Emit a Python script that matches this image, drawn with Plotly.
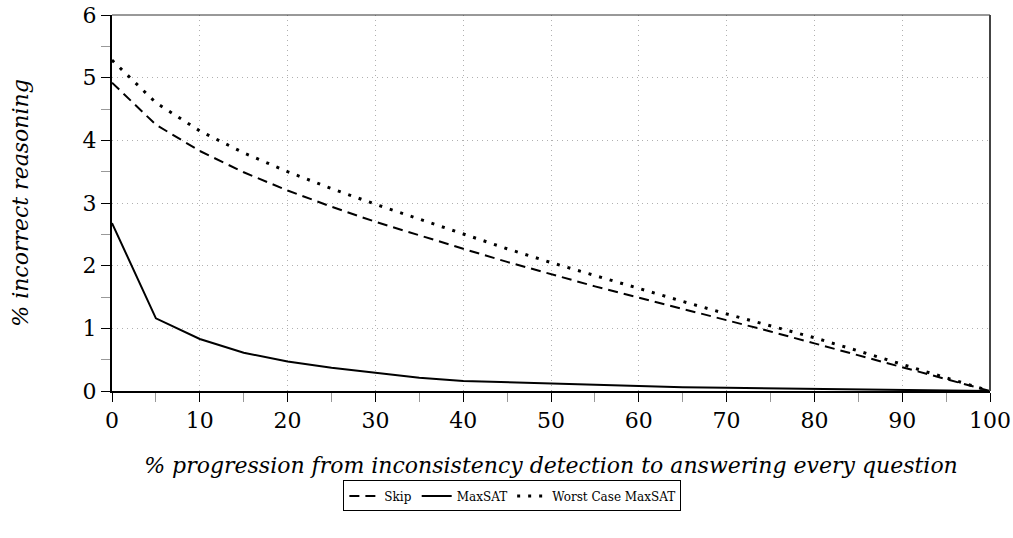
import plotly.graph_objects as go

x = [0, 5, 10, 15, 20, 25, 30, 35, 40, 45, 50, 55, 60, 65, 70, 75, 80, 85, 90, 95, 100]
skip = [4.92, 4.25, 3.83, 3.49, 3.2, 2.94, 2.7, 2.48, 2.27, 2.06, 1.86, 1.67, 1.49, 1.31, 1.14, 0.95, 0.76, 0.57, 0.37, 0.18, 0.0]
maxsat = [2.68, 1.16, 0.83, 0.61, 0.47, 0.37, 0.29, 0.21, 0.16, 0.14, 0.11, 0.09, 0.07, 0.06, 0.05, 0.04, 0.03, 0.02, 0.015, 0.008, 0.0]
worst = [5.28, 4.6, 4.15, 3.8, 3.5, 3.23, 2.98, 2.74, 2.51, 2.27, 2.05, 1.84, 1.64, 1.43, 1.23, 1.04, 0.85, 0.64, 0.42, 0.21, 0.0]

FONT = "DejaVu Serif"

fig = go.Figure()
fig.add_trace(go.Scatter(x=x, y=skip, mode="lines", name="Skip",
                         line=dict(color="black", width=2, dash="10px,6px")))
fig.add_trace(go.Scatter(x=x, y=maxsat, mode="lines", name="MaxSAT",
                         line=dict(color="black", width=2)))
fig.add_trace(go.Scatter(x=x, y=worst, mode="lines", name="Worst Case MaxSAT",
                         line=dict(color="black", width=3, dash="3px,8px")))

fig.update_layout(
    width=1013, height=538,
    margin=dict(l=112, r=23, t=15, b=147, autoexpand=False),
    plot_bgcolor="white", paper_bgcolor="white",
    font=dict(family=FONT, color="black", size=20),
    showlegend=True,
    legend=dict(orientation="h", x=0.456, xanchor="center", y=-0.238, yanchor="top",
                bordercolor="black", borderwidth=1, font=dict(size=12, family=FONT),
                itemwidth=30, tracegroupgap=0),
    xaxis=dict(range=[0, 100], dtick=10, tick0=0, automargin=False,
               showgrid=True, gridcolor="#b0b0b0", griddash="1px,4px", gridwidth=1,
               showline=True, linecolor="black", linewidth=2,
               ticks="outside", ticklen=9, tickcolor="black", tickwidth=1,
               minor=dict(dtick=5, ticks="outside", ticklen=9, tickcolor="#999", showgrid=False),
               zeroline=False, ticklabeloverflow="allow",
               tickfont=dict(size=22),
               title=dict(text="<i>% progression from inconsistency detection to answering every question</i>",
                          font=dict(size=22), standoff=25)),
    yaxis=dict(range=[0, 6], dtick=1, tick0=0, automargin=False,
               showgrid=True, gridcolor="#b0b0b0", griddash="1px,4px", gridwidth=1,
               showline=True, linecolor="black", linewidth=2,
               ticks="outside", ticklen=9, tickcolor="black", tickwidth=1,
               minor=dict(dtick=0.5, ticks="outside", ticklen=9, tickcolor="#999", showgrid=False),
               zeroline=False, ticklabeloverflow="allow",
               tickfont=dict(size=22),
               title=dict(text="<i>% incorrect reasoning</i>", font=dict(size=22), standoff=48)),
)
fig.add_shape(type="line", xref="paper", yref="paper", x0=0, x1=1, y0=1, y1=1,
              line=dict(color="#333", width=1))
fig.add_shape(type="line", xref="paper", yref="paper", x0=1, x1=1, y0=0, y1=1,
              line=dict(color="#444", width=2))

fig.write_html("out.html", config={"displayModeBar": False},
               post_script="document.body.style.margin='0';document.body.style.overflow='hidden';")
